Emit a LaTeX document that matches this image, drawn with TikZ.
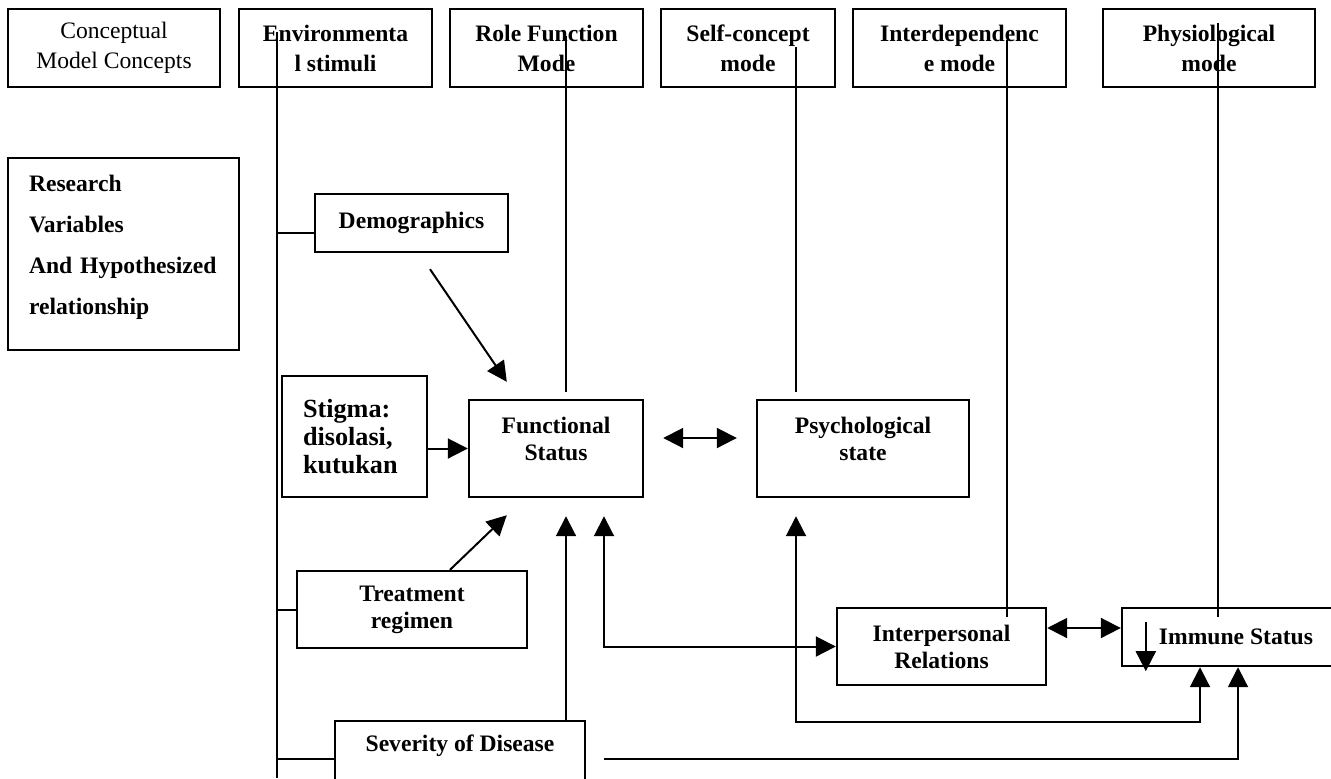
\documentclass[tikz,border=0pt]{standalone}
\usepackage{fontspec}
\setmainfont{Liberation Serif}
\usetikzlibrary{arrows.meta}

\begin{document}
\begin{tikzpicture}[x=0.5pt,y=-0.5pt,
  box/.style={draw,line width=1.2pt,inner sep=0pt,align=center,font=\fontsize{11.8}{13.5}\selectfont\bfseries},
  link/.style={line width=1pt},
  >={Triangle[length=10pt,width=10pt]}]
\useasboundingbox (0,0) rectangle (1331,778);
\clip (0,0) rectangle (1331,778);
\node[box,font=\fontsize{11.8}{15}\selectfont,minimum width=106pt,minimum height=39pt] (concepts) at (114,48) {Conceptual\\Model Concepts};
\foreach \nm/\cx/\w/\txt in {envstim/335.5/193/{Environmenta\\l stimuli},rolemode/546.5/193/{Role Function\\Mode},selfmode/748/174/{Self-concept\\mode},interdep/959.5/213/{Interdependenc\\e mode},physmode/1209/212/{Physiological\\mode}}
  \node[box,font=\fontsize{11.8}{15}\selectfont\bfseries,minimum width=\w*0.5pt,minimum height=39pt] (\nm) at (\cx,48) {\txt};
\node[box,align=left,text width=94.5pt,inner xsep=10.5pt,minimum height=96pt,font=\fontsize{11.8}{20.5}\selectfont\bfseries,text depth=70.5pt] (research) at (123.5,254) {Research\\Variables\\And Hypothesized\\relationship};
\node[box,minimum width=96.5pt,minimum height=29pt] (demo) at (411.5,223) {Demographics};
\node[box,align=left,text width=51.5pt,inner xsep=10.5pt,minimum height=60.5pt,font=\fontsize{13.1}{14}\selectfont\bfseries] (stigma) at (354.5,436.5) {Stigma:\\disolasi,\\kutukan};
\node[box,minimum width=87pt,minimum height=48.5pt,text depth=10pt] (funcst) at (556,448.5) {Functional\\Status};
\node[box,minimum width=106pt,minimum height=48.5pt,text depth=10pt] (psych) at (863,448.5) {Psychological\\state};
\node[box,minimum width=115pt,minimum height=38.5pt] (treat) at (412,609.5) {Treatment\\regimen};
\node[box,minimum width=125pt,minimum height=38pt,text depth=15.5pt] (sev) at (460,759) {Severity of Disease};
\node[box,minimum width=104.5pt,minimum height=38.5pt] (interp) at (941.5,646.5) {Interpersonal\\Relations};
\node[box,minimum width=114pt,minimum height=29pt] (immune) at (1236,637) {Immune Status};
\coordinate (envtop) at (277,32);
\coordinate (envbot) at (277,778);
\coordinate (rolein) at (566,36);
\coordinate (selfin) at (796,47);
\coordinate (interin) at (1007,40);
\coordinate (physin) at (1218,23);
\coordinate (psychlow) at (796,722);
\draw[link] (envtop) -- (envbot);
\draw[link] ([yshift=-5pt]demo.west) -- ([yshift=-5pt]demo.west -| envtop);
\draw[link] (treat.west) -- (treat.west -| envtop);
\draw[link] (sev.west) -- (sev.west -| envtop);
\draw[link] (rolein) -- ([yshift=3.5pt]rolein |- funcst.north);
\draw[link] (selfin) -- ([yshift=3.5pt]selfin |- psych.north);
\draw[link] (interin) -- ([yshift=-5pt]interin |- interp.north);
\draw[link] (physin) -- ([yshift=-5pt]physin |- immune.north);
\draw[link,->] ([shift={(9.25pt,-8pt)}]demo.south) -- ([shift={(19.5pt,8.5pt)}]funcst.north west);
\draw[link,->] (stigma.east |- funcst.west) -- (funcst.west);
\draw[link,->] ([xshift=19pt]treat.north) -- ([shift={(19.5pt,-8.5pt)}]funcst.south west);
\draw[link,<->] ([shift={(9.5pt,5.25pt)}]funcst.east) -- ([shift={(-9.5pt,5.25pt)}]psych.west);
\draw[link,->] (sev.north -| rolein) -- ([yshift=-9pt]rolein |- funcst.south);
\draw[link,<->] ([shift={(24pt,-9pt)}]funcst.south) |- (interp.west);
\draw[link,<->] ([yshift=-9pt]selfin |- psych.south) -- (psychlow) -| ([xshift=-18pt]immune.south);
\draw[link,->] ([xshift=9pt]sev.east) -| ([xshift=1pt]immune.south);
\draw[link,<->] ([yshift=9.25pt]interp.east) -- ([yshift=9.25pt]interp.east -| immune.west);
\draw[link,->] ([shift={(12.5pt,-7.5pt)}]immune.north west) -- ([shift={(12.5pt,-2pt)}]immune.south west);
\end{tikzpicture}
\end{document}
